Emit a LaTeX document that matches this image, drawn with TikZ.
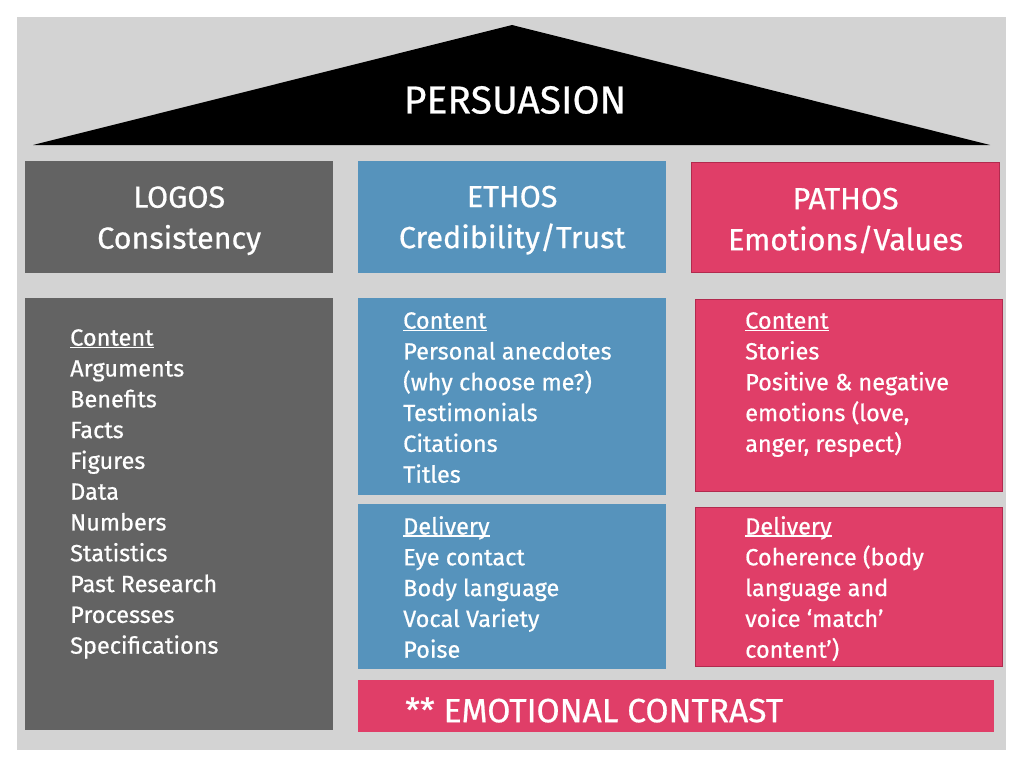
\documentclass[tikz,border=0pt]{standalone}
\usepackage{fontspec}
\setmainfont{Fira Sans}[UprightFeatures={FakeBold=0.6}]
\usetikzlibrary{positioning}
\definecolor{bggray}{RGB}{211,211,211}
\definecolor{logosgray}{RGB}{99,99,99}
\definecolor{ethosblue}{RGB}{86,147,188}
\definecolor{pathospink}{RGB}{224,62,104}
\definecolor{pathosedge}{RGB}{178,42,78}
\newcommand{\ulword}[1]{\setbox0\hbox{#1}\rlap{\rule[-2.2pt]{\wd0}{1.3pt}}\box0}

\begin{document}
\begin{tikzpicture}[x=1pt,y=-1pt,
  every node/.style={text=white,inner sep=0pt},
  panel/.style={anchor=north west,draw=none},
  headtxt/.style={align=center,font=\fontsize{30.5}{41}\selectfont},
  bodytxt/.style={anchor=north west,align=left,font=\fontsize{23.5}{30.8}\selectfont}]
\useasboundingbox (0,0) rectangle (1024,768);
\fill[bggray] (17,17) rectangle (1006,750);
% roof
\fill[black] (33,145) -- (512,25) -- (990,145) -- cycle;
\node[font=\fontsize{39}{40}\selectfont] (title) at (515,100) {PERSUASION};
% header row
\node[panel,fill=logosgray,minimum width=308pt,minimum height=112pt] (logoshead) at (25,161) {};
\node[panel,fill=ethosblue,minimum width=308pt,minimum height=112pt] (ethoshead) at (358,161) {};
\node[panel,fill=pathospink,draw=pathosedge,line width=1.2pt,minimum width=308pt,minimum height=110pt] (pathoshead) at (691,162) {};
\node[headtxt] (logosname) at ([yshift=-3.5pt]logoshead.center) {LOGOS\\Consistency};
\node[headtxt] (ethosname) at ([yshift=-3pt]ethoshead.center) {ETHOS\\Credibility/Trust};
\node[headtxt] (pathosname) at ([yshift=-3pt]pathoshead.center) {PATHOS\\Emotions/Values};
% body panels
\node[panel,fill=logosgray,minimum width=308pt,minimum height=432pt] (logosbody) at (25,298) {};
\node[panel,fill=ethosblue,minimum width=308pt,minimum height=197pt] (ethoscontent) at (358,298) {};
\node[panel,fill=ethosblue,minimum width=308pt,minimum height=165pt] (ethosdelivery) at (358,504) {};
\node[panel,fill=pathospink,draw=pathosedge,line width=1.2pt,minimum width=307pt,minimum height=192pt] (pathoscontent) at (695,299) {};
\node[panel,fill=pathospink,draw=pathosedge,line width=1.2pt,minimum width=307pt,minimum height=159pt] (pathosdelivery) at (695,507) {};
\node[panel,fill=pathospink,minimum width=636pt,minimum height=52pt] (contrast) at (358,680) {};
% texts
\node[bodytxt] (logostxt) at (70,329) {\ulword{Content}\\Arguments\\Benefits\\Facts\\Figures\\Data\\Numbers\\Statistics\\Past Research\\Processes\\Specifications};
\node[bodytxt] (ethoscontenttxt) at (403,312) {\ulword{Content}\\Personal anecdotes\\(why choose me?)\\Testimonials\\Citations\\Titles};
\node[bodytxt] (ethosdeliverytxt) at (403,516) {\ulword{Delivery}\\Eye contact\\Body language\\Vocal Variety\\Poise};
\node[bodytxt] (pathoscontenttxt) at (745,312) {\ulword{Content}\\Stories\\Positive \& negative\\emotions (love,\\anger, respect)};
\node[bodytxt] (pathosdeliverytxt) at (745,516) {\ulword{Delivery}\\Coherence (body\\language and\\voice ‘match’\\content’)};
\node[anchor=west,font=\fontsize{33.5}{34}\selectfont] (contrasttxt) at (405,710) {** EMOTIONAL CONTRAST};
\end{tikzpicture}
\end{document}
